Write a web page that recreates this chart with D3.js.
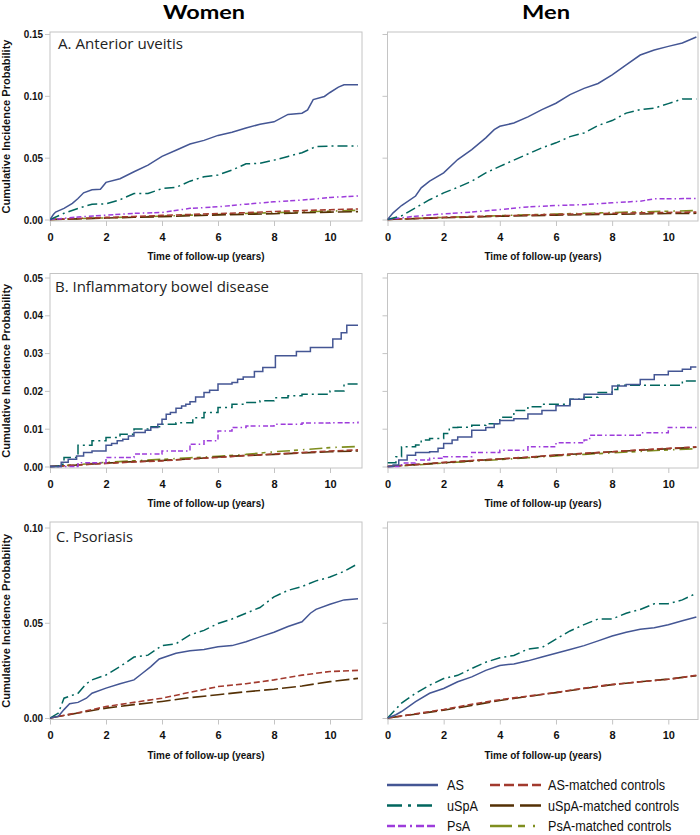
<!DOCTYPE html>
<html><head><meta charset="utf-8">
<script src="https://cdn.jsdelivr.net/npm/d3@7"></script>
<style>body{margin:0;background:#fff}svg{display:block}</style>
</head><body>
<svg id="c" width="700" height="835"></svg>
<script>
// ---------------- DATA (time in years, cumulative incidence) ----------------
const columnTitles = ["Women", "Men"];
const panelTitles = ["A. Anterior uveitis", "B. Inflammatory bowel disease", "C. Psoriasis"];
const seriesNames = ["AS", "uSpA", "PsA", "AS-matched controls", "uSpA-matched controls", "PsA-matched controls"];
const xTicks = [0, 2, 4, 6, 8, 10];
const yTicksA = [0, 0.05, 0.10, 0.15];
const yTicksB = [0, 0.01, 0.02, 0.03, 0.04, 0.05];
const yTicksC = [0, 0.05, 0.10];

// A. Anterior uveitis — Women
const uveWomenAS = [[0,0],[0.12,0.004],[0.2,0.006],[0.5,0.009],[0.8,0.013],[1,0.017],[1.2,0.0216],[1.5,0.024],[1.8,0.0245],[2,0.03],[2.5,0.033],[3,0.0386],[3.5,0.044],[4,0.051],[4.5,0.056],[5,0.061],[5.5,0.064],[6,0.068],[6.5,0.0705],[7,0.074],[7.5,0.077],[8,0.079],[8.5,0.085],[9,0.086],[9.2,0.0886],[9.4,0.097],[9.8,0.0995],[10,0.1027],[10.3,0.107],[10.5,0.109],[11,0.109]];
const uveWomenUSpA = [[0,0],[0.5,0.005],[1,0.009],[1.5,0.0124],[2,0.0126],[2.5,0.016],[3,0.021],[3.5,0.021],[4,0.025],[4.5,0.026],[5,0.031],[5.5,0.0346],[6,0.036],[6.5,0.04],[7,0.045],[7.5,0.0454],[8,0.048],[8.5,0.051],[9,0.054],[9.5,0.059],[10,0.0594],[11,0.0594]];
const uveWomenPsA = [[0,0],[1,0.002],[2,0.0035],[3,0.005],[4,0.0057],[5,0.009],[6,0.0103],[7,0.0124],[8,0.0143],[9,0.0157],[10,0.0178],[11,0.019]];
const uveWomenASCtrl = [[0,0],[1,0.0008],[2,0.0017],[3,0.0024],[4,0.0033],[5,0.0041],[6,0.0048],[7,0.0055],[8,0.0065],[9,0.0072],[10,0.0079],[11,0.0085]];
const uveWomenUSpACtrl = [[0,0],[1,0.0005],[2,0.0012],[3,0.0018],[4,0.0023],[5,0.003],[6,0.0037],[7,0.0042],[8,0.0047],[9,0.0054],[10,0.006],[11,0.0064]];
const uveWomenPsACtrl = [[0,0],[1,0.0007],[2,0.0013],[3,0.0021],[4,0.0027],[5,0.0035],[6,0.0041],[7,0.0049],[8,0.0055],[9,0.0061],[10,0.0068],[11,0.0074]];

// A. Anterior uveitis — Men
const uveMenAS = [[0,0],[0.2,0.0054],[0.5,0.0113],[1,0.019],[1.2,0.0256],[1.5,0.031],[2,0.0377],[2.5,0.0485],[3,0.0565],[3.5,0.066],[3.8,0.0727],[4,0.0754],[4.5,0.078],[5,0.083],[5.5,0.0889],[6,0.094],[6.5,0.101],[7,0.106],[7.5,0.11],[8,0.117],[8.5,0.125],[9,0.133],[9.5,0.137],[10,0.14],[10.5,0.1427],[11,0.1476]];
const uveMenUSpA = [[0,0],[0.5,0.003],[1,0.0094],[1.5,0.016],[2,0.0215],[2.5,0.026],[3,0.031],[3.5,0.0377],[4,0.043],[4.5,0.048],[5,0.053],[5.5,0.058],[6,0.062],[6.5,0.067],[7,0.07],[7.5,0.076],[8,0.08],[8.5,0.086],[9,0.0889],[9.5,0.09],[10,0.0937],[10.5,0.0975],[11,0.0975]];
const uveMenPsA = [[0,0],[1,0.0027],[2,0.0046],[3,0.006],[4,0.008],[5,0.0102],[6,0.0113],[7,0.012],[8,0.0135],[9,0.0148],[9.5,0.0167],[11,0.017]];
const uveMenASCtrl = [[0,0],[1,0.0009],[2,0.0018],[3,0.0024],[4,0.003],[5,0.0036],[6,0.0041],[7,0.0046],[8,0.005],[9,0.0054],[10,0.0057],[11,0.006]];
const uveMenUSpACtrl = [[0,0],[1,0.0007],[2,0.0014],[3,0.002],[4,0.0026],[5,0.003],[6,0.0035],[7,0.0039],[8,0.0042],[9,0.0045],[10,0.0048],[11,0.005]];
const uveMenPsACtrl = [[0,0],[1,0.0008],[2,0.0017],[3,0.0024],[4,0.0031],[5,0.0038],[6,0.0044],[7,0.005],[8,0.0056],[9,0.0062],[10,0.0067],[11,0.0072]];

// B. Inflammatory bowel disease — Women
const ibdWomenAS = [[0,0],[0.4,0.0011],[0.65,0.0019],[0.95,0.0028],[1.2,0.0037],[1.5,0.0041],[2,0.0056],[2.2,0.0061],[2.4,0.0068],[2.6,0.0072],[2.8,0.0081],[3,0.009],[3.4,0.0096],[3.6,0.0103],[3.85,0.0112],[4,0.0125],[4.15,0.0138],[4.3,0.0143],[4.5,0.0154],[4.7,0.016],[4.85,0.0165],[5,0.0171],[5.2,0.0184],[5.5,0.0196],[5.7,0.0202],[6,0.0218],[6.5,0.0222],[6.7,0.0231],[6.9,0.0237],[7.3,0.0251],[7.6,0.0262],[8.05,0.0293],[8.8,0.0304],[9.3,0.0315],[10.1,0.0337],[10.4,0.0354],[10.6,0.0374],[11,0.0374]];
const ibdWomenUSpA = [[0,0],[0.3,0.0006],[0.5,0.0024],[1,0.0056],[1.5,0.0068],[2,0.0077],[2.5,0.0085],[3,0.0099],[3.5,0.0105],[4,0.0112],[4.5,0.0116],[5.1,0.0129],[5.5,0.0143],[6,0.0156],[6.5,0.0165],[7,0.0169],[7.5,0.0174],[8,0.0182],[8.5,0.0187],[9,0.0191],[10,0.02],[10.5,0.0218],[11,0.0222]];
const ibdWomenPsA = [[0,0],[1,0.001],[2,0.0024],[3,0.0033],[4,0.0041],[5,0.0059],[5.5,0.0068],[6,0.0094],[6.5,0.0103],[7,0.0107],[8,0.0112],[9,0.0115],[10,0.0116],[11,0.0119]];
const ibdWomenASCtrl = [[0,0],[1,0.0004],[2,0.0008],[3,0.0012],[4,0.0015],[5,0.002],[6,0.0024],[7,0.0029],[8,0.0033],[9,0.0037],[10,0.0041],[11,0.0044]];
const ibdWomenUSpACtrl = [[0,0],[1,0.0004],[2,0.0009],[3,0.0013],[4,0.0016],[5,0.002],[6,0.0025],[7,0.0029],[8,0.0032],[9,0.0036],[10,0.0039],[11,0.0041]];
const ibdWomenPsACtrl = [[0,0],[1,0.0005],[2,0.0011],[3,0.0015],[4,0.0019],[5,0.0023],[6,0.0027],[7,0.0032],[8,0.0039],[9,0.0044],[10,0.005],[11,0.0053]];

// B. Inflammatory bowel disease — Men
const ibdMenAS = [[0,0],[0.2,0.0004],[0.4,0.0017],[0.7,0.003],[1,0.0037],[1.5,0.0039],[1.8,0.0048],[2,0.0061],[2.3,0.007],[2.5,0.0078],[3,0.0096],[3.5,0.0103],[3.8,0.0113],[4,0.0122],[4.5,0.0126],[5,0.0139],[5.5,0.0148],[6,0.0161],[6.5,0.0178],[7,0.0191],[8,0.0213],[8.5,0.0217],[9,0.023],[9.5,0.0243],[10,0.0252],[10.5,0.0257],[10.8,0.0263],[11,0.0263]];
const ibdMenUSpA = [[0,0.001],[0.3,0.0026],[0.5,0.0052],[1,0.0057],[1.2,0.007],[1.5,0.0074],[2,0.0087],[2.2,0.0103],[2.5,0.0104],[3,0.0109],[3.5,0.0113],[4,0.013],[4.5,0.0148],[5,0.0158],[5.5,0.0165],[6.5,0.0178],[7,0.0183],[7.5,0.0196],[8,0.0204],[8.2,0.0215],[10.5,0.0226],[11,0.0226]];
const ibdMenPsA = [[0,0],[0.5,0.0009],[1,0.0017],[1.5,0.0022],[2,0.0026],[3,0.0037],[4,0.0043],[5,0.0052],[6,0.0063],[7,0.007],[7.2,0.0083],[9,0.0089],[10,0.0103],[11,0.0103]];
const ibdMenASCtrl = [[0,0],[1,0.0005],[2,0.0011],[3,0.0016],[4,0.002],[5,0.0025],[6,0.003],[7,0.0035],[8,0.0039],[9,0.0044],[10,0.0048],[11,0.0052]];
const ibdMenUSpACtrl = [[0,0],[1,0.0005],[2,0.001],[3,0.0015],[4,0.002],[5,0.0024],[6,0.003],[7,0.0034],[8,0.0039],[9,0.0043],[10,0.0047],[11,0.0051]];
const ibdMenPsACtrl = [[0,0],[1,0.0004],[2,0.0009],[3,0.0014],[4,0.0018],[5,0.0023],[6,0.0028],[7,0.0032],[8,0.0036],[9,0.004],[10,0.0044],[11,0.0047]];

// C. Psoriasis — Women
const psoWomenAS = [[0,0],[0.3,0.0009],[0.5,0.0044],[0.7,0.0075],[1,0.0082],[1.3,0.0104],[1.5,0.013],[2,0.0157],[2.5,0.018],[3,0.02],[3.3,0.0235],[3.6,0.027],[3.9,0.031],[4.5,0.034],[5,0.0353],[5.5,0.036],[6,0.0374],[6.5,0.038],[7,0.04],[7.5,0.0426],[8,0.045],[8.5,0.048],[9,0.0505],[9.3,0.055],[9.5,0.057],[10,0.0597],[10.5,0.062],[11,0.0626]];
const psoWomenUSpA = [[0,0],[0.3,0.0026],[0.5,0.0104],[1,0.013],[1.3,0.018],[1.5,0.02],[2,0.0226],[2.5,0.027],[3,0.032],[3.5,0.033],[4,0.038],[4.5,0.039],[5,0.0436],[5.5,0.046],[6,0.0496],[6.5,0.052],[7,0.055],[7.5,0.058],[8,0.0636],[8.5,0.067],[9,0.069],[9.5,0.072],[10,0.074],[10.5,0.077],[11,0.081]];
const psoWomenASCtrl = [[0,0],[1,0.0028],[2,0.006],[3,0.0082],[4,0.0104],[5,0.0135],[6,0.0165],[7,0.018],[8,0.02],[9,0.0225],[10,0.0244],[11,0.025]];
const psoWomenUSpACtrl = [[0,0],[1,0.0026],[2,0.0052],[3,0.007],[4,0.0087],[5,0.0107],[6,0.0122],[7,0.0138],[8,0.0151],[9,0.0168],[10,0.0191],[11,0.0208]];

// C. Psoriasis — Men
const psoMenAS = [[0,0],[0.3,0.0017],[0.5,0.0034],[1,0.0086],[1.5,0.013],[2,0.0155],[2.5,0.019],[3,0.0216],[3.5,0.025],[4,0.0276],[4.5,0.0284],[5,0.03],[5.5,0.032],[6,0.034],[6.5,0.036],[7,0.038],[7.5,0.0405],[8,0.043],[8.5,0.045],[9,0.0466],[9.5,0.0474],[10,0.049],[10.5,0.051],[11,0.053]];
const psoMenUSpA = [[0,0],[0.5,0.0078],[1,0.013],[1.5,0.0172],[2,0.0207],[2.5,0.0224],[3,0.026],[3.5,0.0293],[4,0.0316],[4.5,0.0328],[5,0.0362],[5.5,0.037],[6,0.0414],[6.5,0.0457],[7,0.049],[7.5,0.052],[8,0.052],[8.5,0.055],[9,0.057],[9.5,0.06],[10,0.06],[10.5,0.062],[11,0.0655]];
const psoMenASCtrl = [[0,0],[1,0.0022],[2,0.0045],[3,0.0072],[4,0.0096],[5,0.0115],[6,0.0134],[7,0.0157],[8,0.0176],[9,0.019],[10,0.0203],[11,0.0224]];
const psoMenUSpACtrl = [[0,0],[1,0.002],[2,0.0041],[3,0.0066],[4,0.0092],[5,0.0113],[6,0.0133],[7,0.0155],[8,0.0175],[9,0.019],[10,0.0204],[11,0.0222]];

// ---------------- STYLE ----------------
const seriesColors = ["#445694", "#01665E", "#9D3CDB", "#A23A2E", "#543005", "#7F8E1F"];
const legendDash = ["none", "15,6,3,6", "8,3,8,4,2,4", "10,4", "24,6", "22,6,7,8,2,8"];
const plotDash   = ["none", "10,4,2,4", "5,2,5,3,1.5,3", "6,3", "14,4", "13,4,4,5,1.5,5"];

const panels = [
  { yTicks: yTicksA, yMax: 0.15, yZero: 219.5, yTop: 34, frameTop: 32, frameBot: 221,
    series: [[uveWomenAS, uveWomenUSpA, uveWomenPsA, uveWomenASCtrl, uveWomenUSpACtrl, uveWomenPsACtrl],
             [uveMenAS, uveMenUSpA, uveMenPsA, uveMenASCtrl, uveMenUSpACtrl, uveMenPsACtrl]],
    step: [false, false, false, false, false, false] },
  { yTicks: yTicksB, yMax: 0.05, yZero: 466.5, yTop: 277.5, frameTop: 273.5, frameBot: 468,
    series: [[ibdWomenAS, ibdWomenUSpA, ibdWomenPsA, ibdWomenASCtrl, ibdWomenUSpACtrl, ibdWomenPsACtrl],
             [ibdMenAS, ibdMenUSpA, ibdMenPsA, ibdMenASCtrl, ibdMenUSpACtrl, ibdMenPsACtrl]],
    step: [true, true, true, false, false, false] },
  { yTicks: yTicksC, yMax: 0.10, yZero: 718, yTop: 527.5, frameTop: 522, frameBot: 719.5,
    series: [[psoWomenAS, psoWomenUSpA, null, psoWomenASCtrl, psoWomenUSpACtrl, null],
             [psoMenAS, psoMenUSpA, null, psoMenASCtrl, psoMenUSpACtrl, null]],
    step: [false, false, false, false, false, false] }
];
const cols = [
  { x0: 50, x10: 330, left: 50, right: 362, center: 206, labels: true },
  { x0: 387.5, x10: 668.3, left: 387.5, right: 698, center: 543, labels: false }
];

const svg = d3.select("#c");
const gray = "#c4c4c4";
const tickFont = "'Liberation Sans', Arial, sans-serif";

function fit(sel, w) { sel.attr("textLength", w).attr("lengthAdjust", "spacingAndGlyphs"); }
function condense(sel, f) {
  sel.each(function () {
    const w = this.getComputedTextLength();
    d3.select(this).attr("textLength", w * f).attr("lengthAdjust", "spacingAndGlyphs");
  });
}

// Column headers
const headerW = [82, 48];
columnTitles.forEach((t, i) => {
  svg.append("text").attr("x", [204, 546][i]).attr("y", 19).attr("text-anchor", "middle")
    .attr("font-family", "Lato, 'Open Sans', sans-serif").attr("font-weight", 700).attr("font-size", 19)
    .attr("fill", "#000").text(t).call(fit, headerW[i]);
});

const titleW = [125, 214, 77];
const titleBase = [49, 292, 542];
const titleX = [58, 55, 56];

panels.forEach((p, pi) => {
  cols.forEach((c, ci) => {
    const x = d3.scaleLinear().domain([0, 10]).range([c.x0, c.x10]);
    const y = d3.scaleLinear().domain([0, p.yMax]).range([p.yZero, p.yTop]);
    const g = svg.append("g");
    const clipId = `clip${pi}${ci}`;
    svg.append("clipPath").attr("id", clipId).append("rect")
      .attr("x", c.left).attr("y", p.frameTop).attr("width", c.right - c.left).attr("height", p.frameBot - p.frameTop);

    // frame
    g.append("rect").attr("x", c.left).attr("y", p.frameTop).attr("width", c.right - c.left)
      .attr("height", p.frameBot - p.frameTop).attr("fill", "none").attr("stroke", gray).attr("stroke-width", 1);

    // y axis
    const yAxis = d3.axisLeft(y).tickValues(p.yTicks).tickSize(5).tickPadding(2)
      .tickFormat(c.labels ? d3.format(".2f") : () => "");
    const ya = g.append("g").attr("transform", `translate(${c.left},0)`).call(yAxis);
    ya.select(".domain").remove();
    ya.selectAll(".tick line").attr("stroke", gray);
    ya.selectAll(".tick text").attr("font-family", tickFont).attr("font-weight", 700)
      .attr("font-size", 11).attr("fill", "#111").call(condense, 0.9);

    // x axis
    const xAxis = d3.axisBottom(x).tickValues(xTicks).tickSize(5).tickPadding(7).tickFormat(d3.format("d"));
    const xa = g.append("g").attr("transform", `translate(0,${p.frameBot})`).call(xAxis);
    xa.select(".domain").remove();
    xa.selectAll(".tick line").attr("stroke", gray);
    xa.selectAll(".tick text").attr("font-family", tickFont).attr("font-weight", 700)
      .attr("font-size", 11).attr("fill", "#111");

    // x title
    g.append("text").attr("x", c.center).attr("y", p.frameBot + 39).attr("text-anchor", "middle")
      .attr("font-family", tickFont).attr("font-weight", 700).attr("font-size", 11).attr("fill", "#111")
      .text("Time of follow-up (years)").call(fit, 117);

    if (c.labels) {
      const cy = (p.frameTop + p.frameBot) / 2;
      g.append("text").attr("transform", `translate(10,${cy}) rotate(-90)`).attr("text-anchor", "middle")
        .attr("font-family", tickFont).attr("font-weight", 700).attr("font-size", 11).attr("fill", "#111")
        .text("Cumulative Incidence Probability").call(fit, 174);
      g.append("text").attr("x", titleX[pi]).attr("y", titleBase[pi])
        .attr("font-family", "'Open Sans', sans-serif").attr("font-size", 15).attr("fill", "#222")
        .text(panelTitles[pi]).call(fit, titleW[pi]);
    }

    // series lines (controls first, cases on top)
    const order = [5, 4, 3, 2, 1, 0];
    const lg = g.append("g").attr("clip-path", `url(#${clipId})`);
    order.forEach(si => {
      const data = p.series[ci][si];
      if (!data) return;
      const line = d3.line().x(d => x(d[0])).y(d => y(d[1]))
        .curve(p.step[si] ? d3.curveStepAfter : d3.curveLinear);
      lg.append("path").datum(data).attr("d", line).attr("fill", "none")
        .attr("stroke", seriesColors[si]).attr("stroke-width", si < 3 ? 1.5 : 1.6)
        .attr("stroke-dasharray", plotDash[si]).attr("stroke-linejoin", "miter");
    });
  });
});

// Legend
const legX = [387, 490];
const legTextX = [447, 548];
const legY = [785, 805.5, 826];
seriesNames.forEach((n, i) => {
  const col = i < 3 ? 0 : 1, row = i % 3;
  const lg = svg.append("g");
  lg.append("line").attr("x1", legX[col]).attr("x2", legX[col] + 51).attr("y1", legY[row]).attr("y2", legY[row])
    .attr("stroke", seriesColors[i]).attr("stroke-width", 2.5).attr("stroke-dasharray", legendDash[i]);
  lg.append("g").attr("transform", `translate(${legTextX[col]},${legY[row]}) scale(0.87,1)`)
    .append("text").attr("x", 0).attr("y", 0).attr("dy", "0.36em")
    .attr("font-family", tickFont).attr("font-size", 14.5).attr("fill", "#111").text(n);
});
</script>
</body></html>
